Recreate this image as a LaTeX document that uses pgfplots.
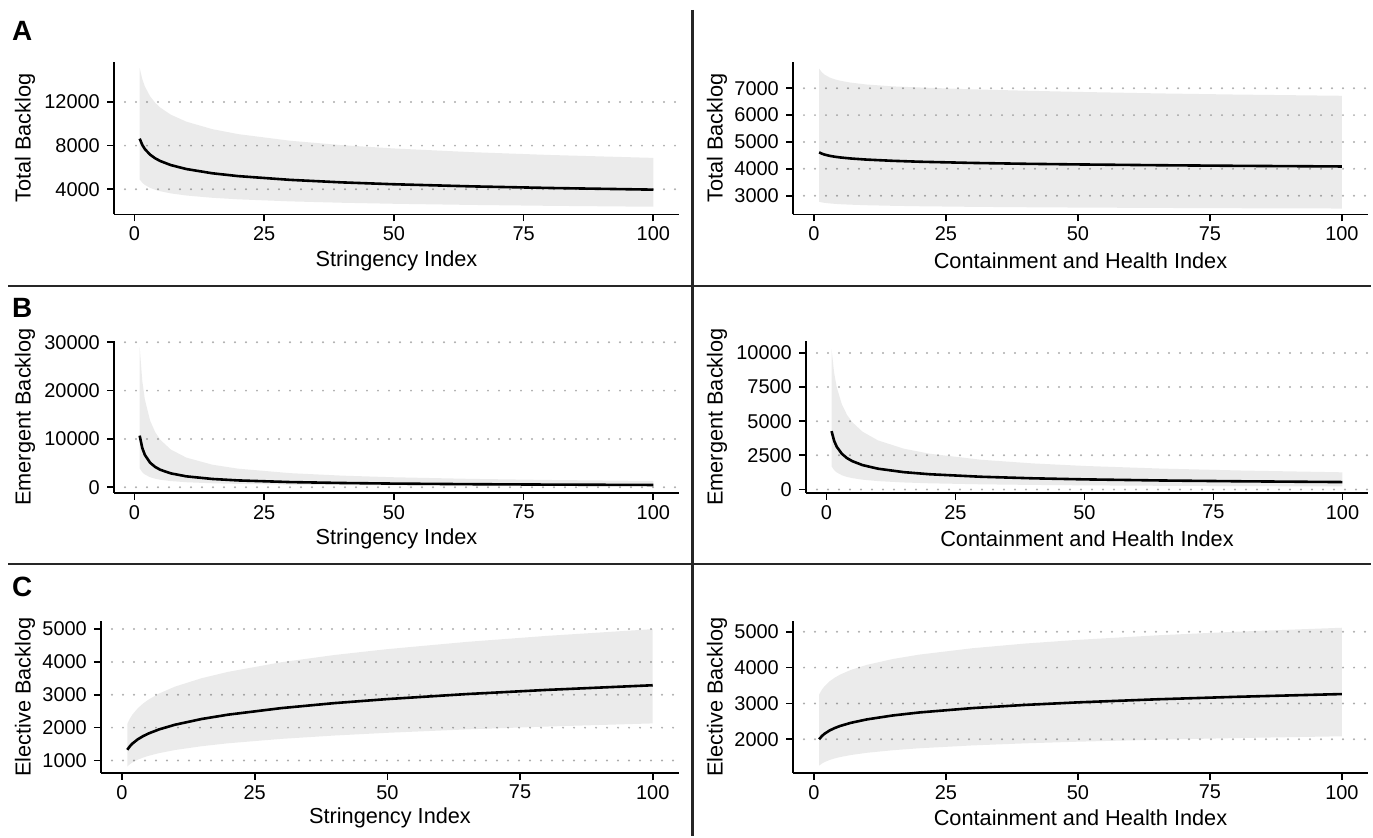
\documentclass[border=0pt]{standalone}
\usepackage{fontspec}
\setmainfont{Liberation Sans}
\usepackage{pgfplots}
\pgfplotsset{compat=1.18}
\usepackage{pgfplotstable}
\usepgfplotslibrary{fillbetween}

% x = index, lo/hi = ribbon bounds, fit = fitted backlog
\pgfplotstableread{
x lo fit hi
1 4900 8640 15115
1.5 4601 8068 14102
2 4401 7685 13425
3 4133 7176 12526
4 3952 6835 11924
5 3818 6583 11478
7 3624 6218 10836
10 3429 5855 10197
15 3220 5467 9512
20 3080 5207 9055
30 2892 4863 8449
40 2766 4632 8044
50 2672 4461 7742
65 2566 4267 7403
80 2484 4120 7145
100 2400 3967 6877
}\tAL
\pgfplotstableread{
x lo fit hi
1 2774 4616 7730
1.5 2751 4567 7600
2 2734 4532 7510
3 2712 4484 7400
4 2696 4450 7330
5 2683 4424 7280
7 2665 4385 7210
10 2645 4344 7140
15 2623 4298 7070
20 2607 4265 7030
30 2585 4220 6960
40 2570 4188 6910
50 2558 4164 6865
65 2544 4135 6810
80 2533 4112 6766
100 2522 4088 6720
}\tAR
\pgfplotstableread{
x lo fit hi
1 3930 10690 29000
1.5 3114 8134 22066
2 2640 6700 18177
3 2092 5098 13830
4 1774 4199 11391
5 1560 3613 9802
7 1286 2880 7813
10 1048 2264 6142
15 830 1723 4675
20 704 1420 3851
30 558 1080 2929
40 473 889 2413
50 416 765 2076
65 358 641 1740
80 318 558 1514
100 279 480 1302
}\tBL
\pgfplotstableread{
x lo fit hi
1 1695 4275 10295
1.5 1416 3563 8554
2 1247 3132 7500
3 1042 2610 6232
4 917 2294 5465
5 831 2076 4934
7 716 1784 4231
10 611 1520 3594
15 511 1267 2987
20 450 1114 2619
30 376 929 2175
40 331 816 1908
50 300 738 1722
65 267 656 1528
80 243 598 1390
100 220 541 1255
}\tBR
\pgfplotstableread{
x lo fit hi
1 817 1326 2112
1.5 889 1436 2278
2 944 1520 2404
3 1027 1647 2594
4 1090 1743 2737
5 1142 1822 2854
7 1225 1947 3039
10 1319 2089 3249
15 1435 2263 3504
20 1524 2395 3698
30 1658 2594 3990
40 1760 2746 4210
50 1843 2869 4389
65 1947 3022 4610
80 2033 3148 4792
100 2129 3290 4997
}\tCL
\pgfplotstableread{
x lo fit hi
1 1264 2000 3249
1.5 1321 2088 3381
2 1363 2153 3478
3 1424 2248 3620
4 1469 2317 3724
5 1505 2373 3807
7 1561 2459 3935
10 1623 2554 4075
15 1696 2666 4241
20 1750 2749 4363
30 1829 2870 4540
40 1887 2959 4671
50 1933 3030 4774
65 1989 3116 4900
80 2034 3185 5001
100 2084 3262 5112
}\tCR

\pgfplotsset{
  panel/.style={
    scale only axis,
    anchor=south west,
    xmin=-3.95, xmax=104.95,
    xtick={0,25,50,75,100},
    axis x line*=bottom, axis y line*=left,
    axis line style={line width=1.7bp, black},
    tick style={line width=1.7bp, black},
    tick align=outside, major tick length=7bp,
    ymajorgrids,
    major grid style={gray!65, line width=2.2bp, line cap=round, dash pattern=on 0bp off 11bp},
    xticklabel style={font=\fontsize{20}{22}\selectfont, inner sep=2bp, yshift=-3bp},
    yticklabel style={font=\fontsize{20}{22}\selectfont, inner sep=2bp, xshift=-5bp},
    /pgf/number format/assume math mode=true,
    /pgf/number format/1000 sep={},
    scaled y ticks=false,
  },
  ribbon/.style={fill=black, fill opacity=0.08, draw=none},
  fitline/.style={black, line width=2.6bp},
}

% ribbon and fitted line from one table
\newcommand\band[2]{%
  \addplot[draw=none, name path=hi#2] table[x=x, y=hi]{#1};
  \addplot[draw=none, name path=lo#2] table[x=x, y=lo]{#1};
  \addplot[ribbon] fill between[of=hi#2 and lo#2];
  \addplot[fitline] table[x=x, y=fit]{#1};
}

\newcommand\axtitle{\fontsize{21.8}{24}\selectfont}
\newcommand\letter{\fontsize{28}{30}\selectfont\bfseries}

\begin{document}
\begin{tikzpicture}
\path (0bp,0bp) rectangle (1373bp,836bp);

% panel dividers
\draw[line width=2.3bp, black!85] (692.5bp,826bp) -- (692.5bp,0bp);
\draw[line width=2.3bp, black!85] (8bp,550bp) -- (1371bp,550bp);
\draw[line width=2.3bp, black!85] (8bp,272bp) -- (1371bp,272bp);

% row A
\begin{axis}[panel, at={(114bp,621.5bp)}, width=565bp, height=152bp,
  ymin=1690, ymax=15620, ytick={4000,8000,12000}]
  \band{\tAL}{al}
\end{axis}
\begin{axis}[panel, at={(793bp,621.5bp)}, width=575bp, height=152bp,
  ymin=2300, ymax=7960, ytick={3000,4000,5000,6000,7000}]
  \band{\tAR}{ar}
\end{axis}

% row B
\begin{axis}[panel, at={(114bp,343bp)}, width=565bp, height=151.5bp,
  ymin=-1180, ymax=30170, ytick={0,10000,20000,30000}]
  \band{\tBL}{bl}
\end{axis}
\begin{axis}[panel, at={(806bp,343bp)}, width=562bp, height=151.5bp,
  ymin=-260, ymax=10840, ytick={0,2500,5000,7500,10000}]
  \band{\tBR}{br}
\end{axis}

% row C
\begin{axis}[panel, at={(101bp,63bp)}, width=578bp, height=152bp,
  ymin=620, ymax=5245, ytick={1000,2000,3000,4000,5000}]
  \band{\tCL}{cl}
\end{axis}
\begin{axis}[panel, at={(793bp,63bp)}, width=575bp, height=152bp,
  ymin=1060, ymax=5300, ytick={2000,3000,4000,5000}]
  \band{\tCR}{cr}
\end{axis}

% panel letters
\node[anchor=base west, inner sep=0, font=\letter] at (12bp,795bp) {A};
\node[anchor=base west, inner sep=0, font=\letter] at (12bp,518bp) {B};
\node[anchor=base west, inner sep=0, font=\letter] at (12bp,239bp) {C};

% axis titles
\node[font=\axtitle] at (396.5bp,575bp) {Stringency Index};
\node[font=\axtitle] at (1080.5bp,575bp) {Containment and Health Index};
\node[font=\axtitle] at (396.5bp,297bp) {Stringency Index};
\node[font=\axtitle] at (1087bp,297bp) {Containment and Health Index};
\node[font=\axtitle] at (390bp,18bp) {Stringency Index};
\node[font=\axtitle] at (1080.5bp,18bp) {Containment and Health Index};

\node[font=\axtitle, rotate=90] at (25bp,698bp) {Total Backlog};
\node[font=\axtitle, rotate=90] at (717bp,698bp) {Total Backlog};
\node[font=\axtitle, rotate=90] at (25bp,419bp) {Emergent Backlog};
\node[font=\axtitle, rotate=90] at (717bp,419bp) {Emergent Backlog};
\node[font=\axtitle, rotate=90] at (25bp,139bp) {Elective Backlog};
\node[font=\axtitle, rotate=90] at (717bp,139bp) {Elective Backlog};
\end{tikzpicture}
\end{document}
